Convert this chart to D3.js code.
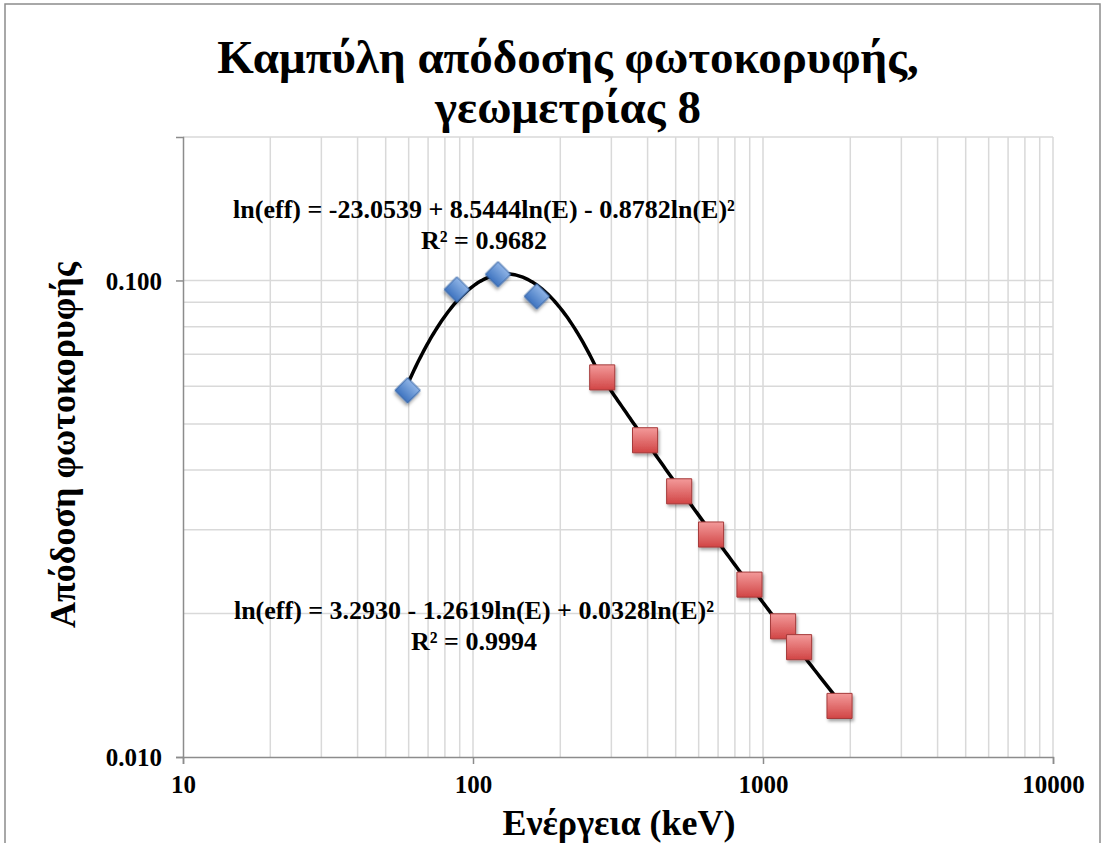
<!DOCTYPE html>
<html>
<head>
<meta charset="utf-8">
<script src="https://cdn.jsdelivr.net/npm/d3@7.9.0/dist/d3.min.js"></script>
<style>
  body { margin: 0; background: #fff; }
  svg text { font-family: "Liberation Serif", "Times New Roman", serif; font-weight: bold; fill: #000; }
</style>
</head>
<body>
<svg id="chart" width="1105" height="843"></svg>
<script>
// measured points (keV, efficiency)
const lowEnergy = [59.5, 88, 122, 166];
const lowEff = [0.0588, 0.0957, 0.103, 0.0926];
const highEnergy = [279, 392, 514, 662, 898, 1173, 1332, 1836];
const highEff = [0.0626, 0.0462, 0.0361, 0.0293, 0.0230, 0.0188, 0.0170, 0.0128];

// trendline coefficients: ln(eff) = a + b ln(E) + c ln(E)^2
const lowFit = [-23.0539, 8.5444, -0.8782];
const highFit = [3.2930, -1.2619, 0.0328];
const lowFitRange = [59.5, 279];
const highFitRange = [279, 1836];

const xTicks = [10, 100, 1000, 10000];
const yTicks = [0.01, 0.1];
const xTickLabels = ['10', '100', '1000', '10000'];
const yTickLabels = ['0.010', '0.100'];

const title = ['Καμπύλη απόδοσης φωτοκορυφής,', 'γεωμετρίας 8'];
const xTitle = 'Ενέργεια (keV)';
const yTitle = 'Απόδοση φωτοκορυφής';
const lowLabel = ['ln(eff) = -23.0539 + 8.5444ln(E) - 0.8782ln(E)²', 'R² = 0.9682'];
const highLabel = ['ln(eff) = 3.2930 - 1.2619ln(E) + 0.0328ln(E)²', 'R² = 0.9994'];

const plot = { left: 183, right: 1053, top: 137, bottom: 757 };

const svg = d3.select('#chart');

const x = d3.scaleLog().domain([10, 10000]).range([plot.left, plot.right]);
const y = d3.scaleLog().domain([0.01, 0.2]).range([plot.bottom, plot.top]);

// outer chart border
svg.append('rect')
    .attr('x', 5).attr('y', 4)
    .attr('width', 1095).attr('height', 860)
    .attr('fill', 'none')
    .attr('stroke', '#8c8c8c')
    .attr('stroke-width', 1.5);

const defs = svg.append('defs');
const blueGrad = defs.append('linearGradient').attr('id', 'blueGrad')
    .attr('x1', 0).attr('y1', 0).attr('x2', 0).attr('y2', 1);
blueGrad.append('stop').attr('offset', '0%').attr('stop-color', '#8fb4e6');
blueGrad.append('stop').attr('offset', '100%').attr('stop-color', '#3f74c0');
const redGrad = defs.append('linearGradient').attr('id', 'redGrad')
    .attr('x1', 0).attr('y1', 0).attr('x2', 0).attr('y2', 1);
redGrad.append('stop').attr('offset', '0%').attr('stop-color', '#f39a9a');
redGrad.append('stop').attr('offset', '100%').attr('stop-color', '#d14545');
const shadow = defs.append('filter').attr('id', 'shadow')
    .attr('x', '-50%').attr('y', '-50%').attr('width', '200%').attr('height', '200%');
shadow.append('feDropShadow')
    .attr('dx', 1.5).attr('dy', 2.5).attr('stdDeviation', 1.5)
    .attr('flood-color', '#000').attr('flood-opacity', 0.35);

// gridlines
const xGrid = [];
for (let d = 10; d < 10000; d *= 10) {
    for (let k = 1; k <= 10; k++) xGrid.push(d * k);
}
const yGrid = [];
for (let d = 0.01; d < 0.15; d *= 10) {
    for (let k = 1; k <= 10; k++) {
        const v = +(d * k).toPrecision(3);
        if (v <= 0.2) yGrid.push(v);
    }
}
const grid = svg.append('g').attr('stroke', '#d9d9d9').attr('stroke-width', 1.5);
grid.selectAll('.vx').data([...new Set(xGrid)].filter(v => v > 10)).join('line')
    .attr('x1', d => x(d)).attr('x2', d => x(d))
    .attr('y1', plot.top).attr('y2', plot.bottom);
grid.selectAll('.hy').data([...new Set(yGrid)].filter(v => v > 0.01)).join('line')
    .attr('x1', plot.left).attr('x2', plot.right)
    .attr('y1', d => y(d)).attr('y2', d => y(d));

// axes
const axisColor = '#8c8c8c';
const xAxis = svg.append('g')
    .attr('transform', `translate(0,${plot.bottom})`)
    .call(d3.axisBottom(x).tickValues(xTicks).tickFormat((d, i) => xTickLabels[i]).tickSize(7).tickPadding(11));
const yAxis = svg.append('g')
    .attr('transform', `translate(${plot.left},0)`)
    .call(d3.axisLeft(y).tickValues(yTicks).tickFormat((d, i) => yTickLabels[i]).tickSize(7).tickPadding(14));
[xAxis, yAxis].forEach(a => {
    a.select('.domain').attr('stroke', axisColor).attr('stroke-width', 1.5);
    a.selectAll('.tick line').attr('stroke', axisColor).attr('stroke-width', 1.5);
    a.selectAll('.tick text')
        .attr('font-family', 'Liberation Serif')
        .attr('font-weight', 'bold')
        .attr('font-size', 25)
        .attr('fill', '#000');
});
yAxis.selectAll('.tick text').attr('dy', '0.35em');

// trendlines
function fitCurve(coef, range) {
    const pts = [];
    const l0 = Math.log(range[0]), l1 = Math.log(range[1]);
    for (let i = 0; i <= 120; i++) {
        const l = l0 + (l1 - l0) * i / 120;
        pts.push([Math.exp(l), Math.exp(coef[0] + coef[1] * l + coef[2] * l * l)]);
    }
    return pts;
}
const line = d3.line().x(d => x(d[0])).y(d => y(d[1]));
[[lowFit, lowFitRange], [highFit, highFitRange]].forEach(([c, r]) => {
    svg.append('path')
        .attr('d', line(fitCurve(c, r)))
        .attr('fill', 'none')
        .attr('stroke', '#000')
        .attr('stroke-width', 3.5);
});

// markers
svg.append('g').selectAll('path')
    .data(lowEnergy.map((e, i) => [e, lowEff[i]]))
    .join('path')
    .attr('d', d3.symbol().type(d3.symbolSquare).size(320))
    .attr('transform', d => `translate(${x(d[0])},${y(d[1])}) rotate(45)`)
    .attr('fill', 'url(#blueGrad)')
    .attr('stroke', '#3565a8')
    .attr('stroke-width', 1)
    .attr('filter', 'url(#shadow)');
svg.append('g').selectAll('path')
    .data(highEnergy.map((e, i) => [e, highEff[i]]))
    .join('path')
    .attr('d', d3.symbol().type(d3.symbolSquare).size(630))
    .attr('transform', d => `translate(${x(d[0])},${y(d[1])})`)
    .attr('fill', 'url(#redGrad)')
    .attr('stroke', '#a53a3a')
    .attr('stroke-width', 1)
    .attr('filter', 'url(#shadow)');

// trendline labels
function eqLabel(lines, cx, y0) {
    const t = svg.append('text').attr('text-anchor', 'middle').attr('font-size', 26);
    lines.forEach((s, i) => {
        t.append('tspan').attr('x', cx).attr('y', y0 + i * 31).text(s);
    });
}
eqLabel(lowLabel, 484, 218);
eqLabel(highLabel, 474, 619);

// titles
svg.append('text')
    .attr('text-anchor', 'middle')
    .attr('font-size', 47)
    .selectAll('tspan').data(title).join('tspan')
    .attr('x', 568).attr('y', (d, i) => 73 + i * 50)
    .text(d => d);
svg.append('text')
    .attr('text-anchor', 'middle')
    .attr('font-size', 36)
    .attr('x', 619).attr('y', 835)
    .text(xTitle);
svg.append('text')
    .attr('text-anchor', 'middle')
    .attr('font-size', 36)
    .attr('transform', `translate(75,445) rotate(-90)`)
    .text(yTitle);
</script>
</body>
</html>
